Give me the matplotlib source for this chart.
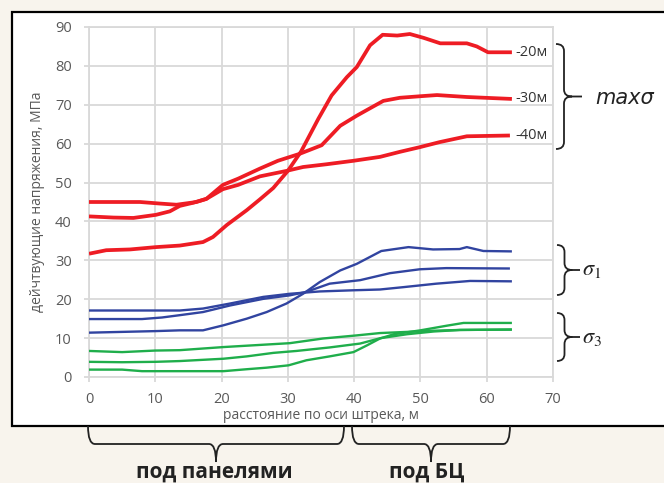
import matplotlib
matplotlib.use('Agg')
import matplotlib.pyplot as plt
import matplotlib.transforms as mtransforms
from matplotlib.path import Path
from matplotlib.patches import PathPatch, Rectangle

# maxσ, красные линии
x_r20 = [0, 2.6, 6.2, 10.1, 13.7, 17.2, 18.7, 20.8, 23.8, 25.8, 27.8, 30, 32, 34.6, 36.6, 38.9, 40.4, 42.4, 44.3, 46.5, 48.4, 50.5, 53, 57, 58.5, 60.2, 63.8]
y_r20 = [31.7, 32.6, 32.8, 33.4, 33.8, 34.7, 36.0, 39.1, 42.9, 45.7, 48.6, 53.0, 58.0, 66.4, 72.4, 77.1, 79.7, 85.3, 88.0, 87.8, 88.2, 87.2, 85.8, 85.8, 85.0, 83.5, 83.5]
x_r30 = [0, 3.7, 6.7, 10.1, 12.2, 13.7, 15.7, 17.7, 20.2, 22.5, 25.8, 28.5, 31.8, 35.1, 37.9, 40.4, 42.5, 44.4, 46.9, 50, 52.5, 57, 63.8]
y_r30 = [41.3, 41.0, 40.9, 41.7, 42.6, 44.0, 44.8, 45.8, 49.4, 51.0, 53.6, 55.6, 57.4, 59.6, 64.6, 67.2, 69.2, 71.0, 71.8, 72.2, 72.5, 72.0, 71.5]
x_r40 = [0, 4, 7.7, 10.7, 13.2, 16.2, 17.7, 20.2, 22.5, 25.8, 29.8, 32.3, 35.8, 39.9, 43.9, 46.9, 49.9, 52.9, 57, 63.5]
y_r40 = [45.0, 45.0, 45.0, 44.6, 44.3, 45.0, 45.8, 48.3, 49.4, 51.6, 53.0, 54.0, 54.7, 55.6, 56.6, 57.9, 59.1, 60.4, 61.9, 62.1]

# σ1, синие линии
x_b1 = [0, 10, 13.7, 17.2, 20.3, 23.8, 26.8, 29.8, 32.3, 34.8, 37.9, 40.4, 44.1, 48.2, 51.9, 55.9, 57, 59.5, 63.8]
y_b1 = [11.4, 11.8, 12.0, 12.0, 13.3, 15.0, 16.7, 18.9, 21.4, 24.4, 27.4, 29.1, 32.4, 33.4, 32.8, 32.9, 33.4, 32.4, 32.3]
x_b2 = [0, 8, 11, 13.7, 17.2, 21.3, 26.3, 30.3, 32.8, 36.3, 40.9, 45.4, 49.9, 53.9, 63.5]
y_b2 = [14.9, 14.9, 15.3, 15.9, 16.7, 18.4, 20.1, 21.0, 21.9, 24.0, 24.9, 26.7, 27.7, 28.0, 27.9]
x_b3 = [0, 10, 13.7, 17.2, 21.3, 26.3, 30.3, 34.8, 39.9, 43.9, 47.4, 52.4, 57.5, 63.8]
y_b3 = [17.1, 17.1, 17.1, 17.6, 18.9, 20.6, 21.4, 22.0, 22.3, 22.5, 23.1, 24.0, 24.7, 24.6]

# σ3, зелёные линии
x_g1 = [0, 5, 10, 13.7, 20.3, 26.3, 30.3, 35.3, 40.4, 43.9, 48, 52, 56, 63.8]
y_g1 = [6.7, 6.4, 6.8, 6.9, 7.7, 8.3, 8.7, 9.9, 10.7, 11.3, 11.6, 11.9, 12.1, 12.2]
x_g2 = [0, 5, 10, 13.7, 20.3, 23.8, 27.8, 31.3, 36.3, 40.9, 44, 48, 52, 56, 63.8]
y_g2 = [3.9, 3.8, 3.9, 4.1, 4.7, 5.3, 6.2, 6.7, 7.6, 8.6, 10.0, 11.0, 11.7, 12.1, 12.2]
x_g3 = [0, 5, 8, 13.7, 20.3, 23.8, 26.8, 30.1, 32.8, 36.3, 39.9, 41.9, 43.9, 46, 48, 50, 52, 54, 56.5, 63.8]
y_g3 = [1.9, 1.9, 1.5, 1.5, 1.5, 2.0, 2.4, 3.0, 4.3, 5.3, 6.4, 8.1, 9.9, 11.0, 11.5, 12.0, 12.6, 13.2, 13.9, 13.9]

x_ticks = [0, 10, 20, 30, 40, 50, 60, 70]
y_ticks = [0, 10, 20, 30, 40, 50, 60, 70, 80, 90]
depth_labels = ['-20м', '-30м', '-40м']

plt.rcParams['font.family'] = ['Open Sans', 'DejaVu Sans']
plt.rcParams['mathtext.fontset'] = 'stix'

W, H = 664, 483
fig = plt.figure(figsize=(W / 100, H / 100), dpi=100)
fig.patch.set_facecolor('#f8f4ed')
px = mtransforms.Affine2D().scale(1 / W, -1 / H).translate(0, 1) + fig.transFigure

fig.patches.append(Rectangle((12, 12), 700, 414, transform=px, facecolor='white',
                             edgecolor='black', lw=1.6, zorder=-5))

ax = fig.add_axes([89 / W, 1 - 377 / H, (553 - 89) / W, (377 - 27) / H])
ax.set_facecolor('white')
ax.set_zorder(1)

red, blue, green = '#ee1c24', '#3144a0', '#1fae4b'
for xs, ys in [(x_r20, y_r20), (x_r30, y_r30), (x_r40, y_r40)]:
    ax.plot(xs, ys, color=red, lw=2.7, solid_capstyle='butt', zorder=3)
for xs, ys in [(x_b1, y_b1), (x_b2, y_b2), (x_b3, y_b3)]:
    ax.plot(xs, ys, color=blue, lw=1.7, solid_capstyle='butt', zorder=3)
for xs, ys in [(x_g1, y_g1), (x_g2, y_g2), (x_g3, y_g3)]:
    ax.plot(xs, ys, color=green, lw=1.7, solid_capstyle='butt', zorder=3)

ax.set_xlim(0, 70)
ax.set_ylim(0, 90)
ax.set_xticks(x_ticks)
ax.set_yticks(y_ticks)
ax.grid(True, color='#d9d9d9', lw=1.3)
ax.set_axisbelow(True)
for s in ax.spines.values():
    s.set_color('#d9d9d9')
    s.set_linewidth(1.3)
ax.tick_params(length=3.5, width=1.3, color='#d9d9d9', labelsize=10.5,
               labelcolor='#595959')
ax.tick_params(axis='y', pad=9)
ax.tick_params(axis='x', pad=7)
ax.set_xlabel('расстояние по оси штрека, м', fontsize=10, color='#595959', labelpad=1)
ax.set_ylabel('дейчтвующие напряжения, МПа', fontsize=10, color='#595959', labelpad=7)

# подписи глубин
for lbl, yv in zip(depth_labels, [y_r20[-1], y_r30[-1], y_r40[-1]]):
    ax.text(64.3, yv, lbl, fontsize=10.5, color='#333333', va='center', ha='left')


def brace_v(x, y0, y1, w, tail):
    ym = (y0 + y1) / 2
    q = 7
    verts = [(x, y0), (x + w / 2, y0), (x + w / 2, y0 + q), (x + w / 2, ym - q),
             (x + w / 2, ym), (x + w, ym), (x + w / 2, ym), (x + w / 2, ym + q),
             (x + w / 2, y1 - q), (x + w / 2, y1), (x, y1),
             (x + w, ym), (x + w + tail, ym)]
    codes = [Path.MOVETO, Path.CURVE3, Path.CURVE3, Path.LINETO,
             Path.CURVE3, Path.CURVE3, Path.CURVE3, Path.CURVE3,
             Path.LINETO, Path.CURVE3, Path.CURVE3,
             Path.MOVETO, Path.LINETO]
    fig.patches.append(PathPatch(Path(verts, codes), transform=px, fill=False,
                                 edgecolor='#222222', lw=1.3))


def brace_h(x0, x1, y, h, tail):
    xm = (x0 + x1) / 2
    q = 7
    verts = [(x0, y), (x0, y + h / 2), (x0 + q, y + h / 2), (xm - q, y + h / 2),
             (xm, y + h / 2), (xm, y + h), (xm, y + h / 2), (xm + q, y + h / 2),
             (x1 - q, y + h / 2), (x1, y + h / 2), (x1, y),
             (xm, y + h), (xm, y + h + tail)]
    codes = [Path.MOVETO, Path.CURVE3, Path.CURVE3, Path.LINETO,
             Path.CURVE3, Path.CURVE3, Path.CURVE3, Path.CURVE3,
             Path.LINETO, Path.CURVE3, Path.CURVE3,
             Path.MOVETO, Path.LINETO]
    fig.patches.append(PathPatch(Path(verts, codes), transform=px, fill=False,
                                 edgecolor='#222222', lw=1.3))


brace_v(556, 44, 149, 16, 10)
brace_v(557, 245, 295, 15, 8)
brace_v(557, 313, 361, 15, 8)
fig.text(595, 98, 'maxσ', transform=px, fontsize=15, style='italic',
         family=['DejaVu Sans'], color='#222222', va='center', ha='left')
fig.text(582, 270, r'$\sigma_1$', transform=px, fontsize=16, color='#222222',
         va='center', ha='left')
fig.text(582, 337, r'$\sigma_3$', transform=px, fontsize=16, color='#222222',
         va='center', ha='left')

brace_h(88, 344, 426, 36, 0)
brace_h(352, 510, 426, 36, 0)
fig.text(214, 472, 'под панелями', transform=px, fontsize=15, weight='bold',
         color='#222222', va='center', ha='center')
fig.text(427, 472, 'под БЦ', transform=px, fontsize=15, weight='bold',
         color='#222222', va='center', ha='center')

fig.savefig('out.png', dpi=100, facecolor=fig.get_facecolor())
